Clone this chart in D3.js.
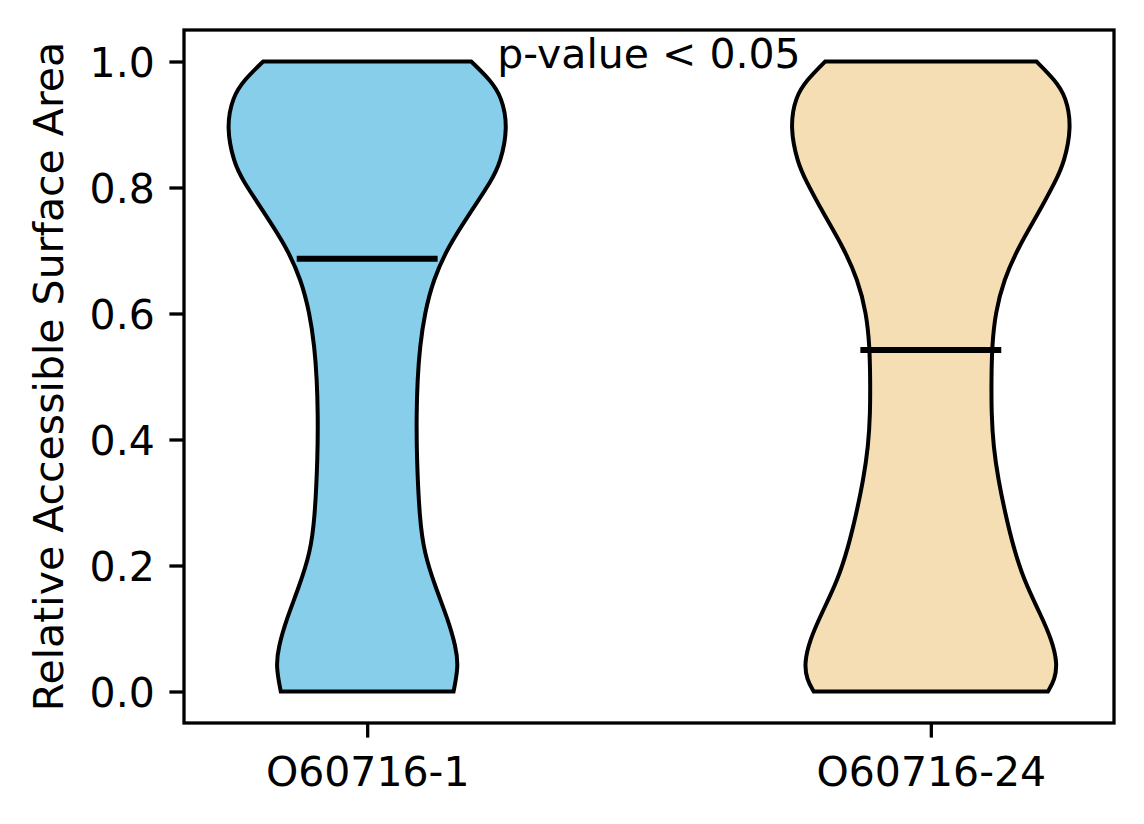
<!DOCTYPE html>
<html>
<head>
<meta charset="utf-8">
<script src="https://cdn.jsdelivr.net/npm/d3@7"></script>
<style>
  html, body { margin: 0; padding: 0; background: #fff; }
  svg text { font-family: "DejaVu Sans", sans-serif; fill: #000; }
</style>
</head>
<body>
<div id="chart"></div>
<script>
// Groups and their positions on the x axis
const groups = ["O60716-1", "O60716-24"];
const positions = [1, 2];
const fillColors = ["#87ceeb", "#f5deb3"];
const medians = [0.687, 0.542];
const yTicks = [0.0, 0.2, 0.4, 0.6, 0.8, 1.0];
const annotation = "p-value < 0.05";
const yLabel = "Relative Accessible Surface Area";

// Violin outlines: y value and relative half-width (1 = widest)
const violin1Y = [1.0, 0.971, 0.944, 0.895, 0.839, 0.812, 0.759, 0.706, 0.653, 0.601,
  0.548, 0.495, 0.442, 0.373, 0.273, 0.220, 0.167, 0.114, 0.071, 0.040, 0.0];
const violin1W = [0.738, 0.872, 0.955, 1.0, 0.945, 0.885, 0.728, 0.574, 0.468, 0.409,
  0.374, 0.357, 0.350, 0.351, 0.372, 0.405, 0.482, 0.574, 0.629, 0.648, 0.613];

const violin2Y = [1.0, 0.971, 0.944, 0.895, 0.839, 0.812, 0.759, 0.706, 0.653, 0.601,
  0.548, 0.495, 0.442, 0.389, 0.336, 0.283, 0.230, 0.177, 0.124, 0.082, 0.045, 0.019, 0.0];
const violin2W = [0.750, 0.879, 0.961, 1.0, 0.945, 0.890, 0.763, 0.623, 0.517, 0.458,
  0.434, 0.430, 0.430, 0.444, 0.479, 0.528, 0.585, 0.660, 0.775, 0.859, 0.898, 0.880, 0.831];

const violinWidth = 0.5; // full width in x units

const W = 1144, H = 824;
const margin = { top: 30, right: 30, bottom: 101, left: 184 };
const fontSize = 41;
const tickLen = 14.6;

const svg = d3.select("#chart")
  .append("svg")
  .attr("width", W)
  .attr("height", H);

const g = svg.append("g")
  .attr("transform", `translate(${margin.left},${margin.top})`);

const innerW = W - margin.left - margin.right;
const innerH = H - margin.top - margin.bottom;

const x = d3.scaleLinear().domain([0.675, 2.325]).range([0, innerW]);
const y = d3.scaleLinear().domain([-0.05, 1.05]).range([innerH, 0]);

const violins = [
  { ys: violin1Y, ws: violin1W },
  { ys: violin2Y, ws: violin2W }
];

// Draw violins
violins.forEach((v, i) => {
  const pts = v.ys.map((yy, k) => ({ y: yy, w: v.ws[k] }));
  const half = violinWidth / 2;
  const area = d3.area()
    .curve(d3.curveBasis)
    .y((d) => y(d.y))
    .x0((d) => x(positions[i] - d.w * half))
    .x1((d) => x(positions[i] + d.w * half));

  g.append("path")
    .datum(pts)
    .attr("d", area)
    .attr("fill", fillColors[i])
    .attr("stroke", "#000")
    .attr("stroke-width", 4)
    .attr("stroke-linejoin", "miter");

  // median line
  g.append("line")
    .attr("x1", x(positions[i] - violinWidth / 4))
    .attr("x2", x(positions[i] + violinWidth / 4))
    .attr("y1", y(medians[i]))
    .attr("y2", y(medians[i]))
    .attr("stroke", "#000")
    .attr("stroke-width", 6);
});

// Y axis
const yAxis = g.append("g")
  .call(
    d3.axisLeft(y)
      .tickValues(yTicks)
      .tickFormat(d3.format(".1f"))
      .tickSize(tickLen)
      .tickPadding(tickLen)
  );
yAxis.select(".domain").remove();
yAxis.selectAll(".tick line").attr("stroke", "#000").attr("stroke-width", 3.3);
yAxis.selectAll(".tick text")
  .style("font-size", fontSize + "px")
  .attr("dy", "0.36em");

// X axis
const xAxis = g.append("g")
  .attr("transform", `translate(0,${innerH})`)
  .call(
    d3.axisBottom(x)
      .tickValues(positions)
      .tickFormat((d, i) => groups[i])
      .tickSize(tickLen)
      .tickPadding(tickLen)
  );
xAxis.select(".domain").remove();
xAxis.selectAll(".tick line").attr("stroke", "#000").attr("stroke-width", 3.3);
xAxis.selectAll(".tick text")
  .style("font-size", fontSize + "px")
  .attr("dy", "0.82em");

// Frame
g.append("rect")
  .attr("x", 0)
  .attr("y", 0)
  .attr("width", innerW)
  .attr("height", innerH)
  .attr("fill", "none")
  .attr("stroke", "#000")
  .attr("stroke-width", 3.3);

// Annotation
g.append("text")
  .attr("x", x(1.5))
  .attr("y", y(1.0))
  .attr("dy", "0.16em")
  .attr("text-anchor", "middle")
  .style("font-size", fontSize + "px")
  .text(annotation);

// Y label
svg.append("text")
  .attr("transform", `translate(63,${margin.top + innerH / 2}) rotate(-90)`)
  .attr("text-anchor", "middle")
  .style("font-size", fontSize + "px")
  .text(yLabel);
</script>
</body>
</html>
